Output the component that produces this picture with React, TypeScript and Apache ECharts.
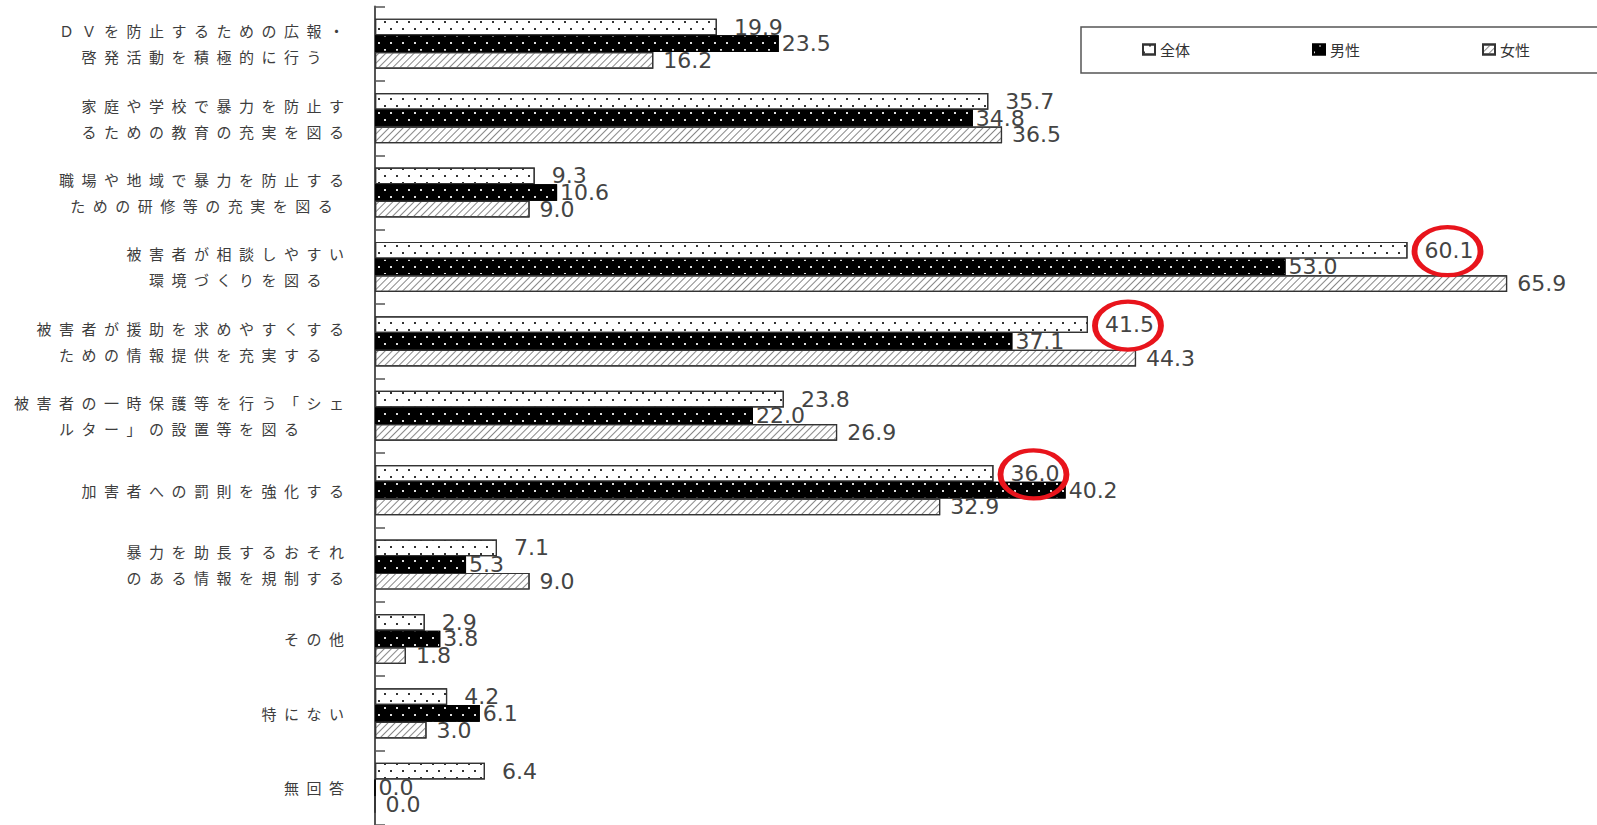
import React, { useEffect, useRef } from 'react';
import * as echarts from 'echarts';

const categories = [
  'ＤＶを防止するための広報・\n啓発活動を積極的に行う',
  '家庭や学校で暴力を防止す\nるための教育の充実を図る',
  '職場や地域で暴力を防止する\nための研修等の充実を図る',
  '被害者が相談しやすい\n環境づくりを図る',
  '被害者が援助を求めやすくする\nための情報提供を充実する',
  '被害者の一時保護等を行う「シェ\nルター」の設置等を図る',
  '加害者への罰則を強化する',
  '暴力を助長するおそれ\nのある情報を規制する',
  'その他',
  '特にない',
  '無回答',
];
const seriesNames = ['全体', '男性', '女性'];
const totalValues = [19.9, 35.7, 9.3, 60.1, 41.5, 23.8, 36.0, 7.1, 2.9, 4.2, 6.4];
const maleValues = [23.5, 34.8, 10.6, 53.0, 37.1, 22.0, 40.2, 5.3, 3.8, 6.1, 0.0];
const femaleValues = [16.2, 36.5, 9.0, 65.9, 44.3, 26.9, 32.9, 9.0, 1.8, 3.0, 0.0];
const circledTotalIndices = [3, 4, 6];

const JP = '"Noto Sans CJK JP", "Noto Sans CJK SC", sans-serif';
const NUM = '"DejaVu Sans", sans-serif';
const PITCH = 22.5;

export default function App() {
  const ref = useRef<HTMLDivElement>(null);
  useEffect(() => {
    if (!ref.current) return;
    const chart = echarts.init(ref.current, undefined, { renderer: 'svg' });

    const rich: Record<string, any> = {};
    for (let n = 1; n <= 20; n++) {
      rich['w' + n] = {
        width: n * PITCH,
        align: 'center',
        fontSize: 15,
        fontFamily: JP,
        color: '#3d3d3d',
        lineHeight: 26,
      };
    }

    const dotsDark = {
      symbol: 'rect',
      symbolSize: 1,
      color: '#333',
      dashArrayX: [[1.5, 9.5], [0, 5.5, 1.5, 4]],
      dashArrayY: [1.5, 4.5],
    };
    const dotsLight = {
      symbol: 'rect',
      symbolSize: 1,
      color: '#ddd',
      dashArrayX: [[1.5, 9.5], [0, 5.5, 1.5, 4]],
      dashArrayY: [1.5, 4.5],
    };
    const hatch = {
      symbol: 'rect',
      symbolSize: 1,
      color: '#888',
      dashArrayX: [1, 0],
      dashArrayY: [1, 3.5],
      rotation: -Math.PI / 4,
    };

    const valueLabel = (distance: number) => ({
      show: true,
      position: 'right',
      distance,
      formatter: (p: any) => Number(p.value).toFixed(1),
      fontFamily: NUM,
      fontSize: 22,
      color: '#444',
    });

    chart.setOption({
      animation: false,
      backgroundColor: '#fff',
      graphic: [
        {
          type: 'rect',
          shape: { x: 1081, y: 27, width: 540, height: 46 },
          style: { fill: 'none', stroke: '#555', lineWidth: 1.5 },
          silent: true,
        },
      ],
      legend: {
        data: seriesNames,
        left: 1142,
        top: 42,
        orient: 'horizontal',
        icon: 'rect',
        itemWidth: 12,
        itemHeight: 10,
        itemGap: 122,
        padding: 0,
        textStyle: { fontSize: 15, color: '#333', fontFamily: JP },
      },
      grid: { left: 375, top: 6.5, width: 70 * 17.18, height: 836 },
      xAxis: { type: 'value', min: 0, max: 70, show: false },
      yAxis: {
        type: 'category',
        data: categories,
        inverse: true,
        axisLine: { show: true, lineStyle: { color: '#555', width: 2 } },
        axisTick: { show: true, inside: true, length: 10, lineStyle: { color: '#555', width: 1.5 } },
        axisLabel: {
          interval: 0,
          margin: 23.5,
          formatter: (v: string) =>
            v
              .split('\n')
              .map((line) => `{w${Array.from(line).length}|${line}}`)
              .join('\n'),
          rich,
        },
        splitLine: { show: false },
      },
      series: [
        {
          name: seriesNames[0],
          type: 'bar',
          data: totalValues,
          barWidth: 16.7,
          barGap: '0%',
          itemStyle: { color: '#fff', borderColor: '#333', borderWidth: 1.2, decal: dotsDark },
          label: valueLabel(17),
          markPoint: {
            silent: true,
            symbol: 'path://M0,1A1,1,0,1,1,2,1A1,1,0,1,1,0,1Z',
            symbolSize: [66, 48],
            symbolOffset: [40, 1],
            itemStyle: { color: 'rgba(0,0,0,0)', borderColor: '#e8141c', borderWidth: 5 },
            label: { show: false },
            data: circledTotalIndices.map((i) => ({ coord: [totalValues[i], categories[i]] })),
          },
        },
        {
          name: seriesNames[1],
          type: 'bar',
          data: maleValues,
          barWidth: 16.7,
          barGap: '0%',
          itemStyle: { color: '#000', borderColor: '#000', borderWidth: 1.2, decal: dotsLight },
          label: valueLabel(3),
        },
        {
          name: seriesNames[2],
          type: 'bar',
          data: femaleValues,
          barWidth: 16.7,
          barGap: '0%',
          itemStyle: { color: '#fff', borderColor: '#333', borderWidth: 1.2, decal: hatch },
          label: valueLabel(10),
        },
      ],
    });
    return () => chart.dispose();
  }, []);

  return (
    <>
      <style>{'.jpchart text[text-anchor="middle"]{letter-spacing:7.5px;}'}</style>
      <div
        ref={ref}
        className="jpchart"
        style={{ position: 'absolute', left: 0, top: 0, width: 1597, height: 825 }}
      />
    </>
  );
}
